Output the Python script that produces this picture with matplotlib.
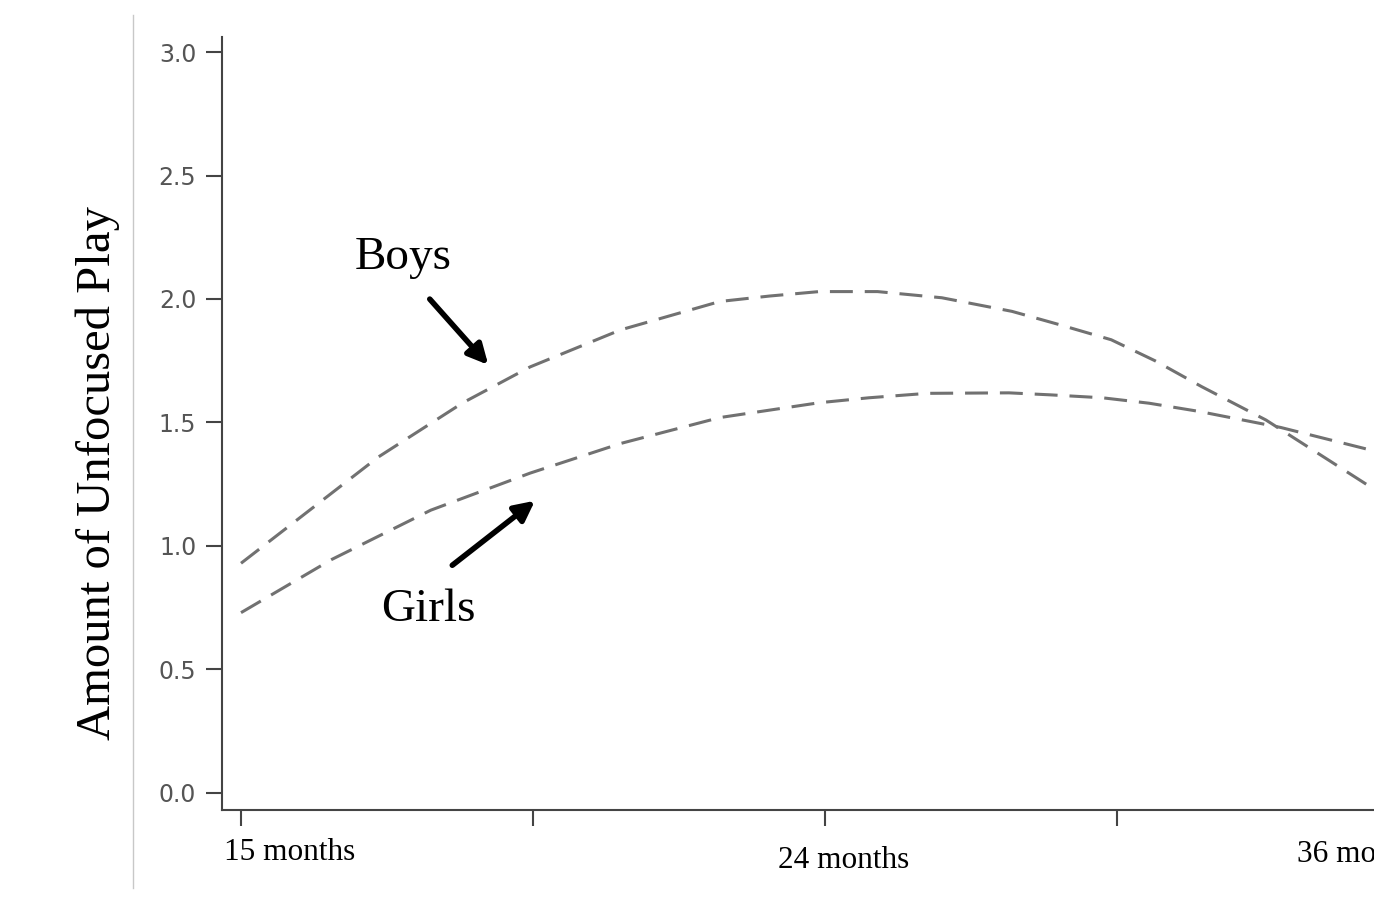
import numpy as np
import matplotlib.pyplot as plt
from matplotlib.lines import Line2D

# time axis: 0 = 15 months, 2 = 24 months, 4 = 36 months
boys_x = [0.0, 0.47, 0.76, 0.99, 1.30, 1.64, 1.81, 1.98, 2.18, 2.40, 2.64, 2.80, 2.98, 3.13, 3.29, 3.51, 3.88]
boys_y = [0.93, 1.36, 1.58, 1.725, 1.875, 1.99, 2.012, 2.03, 2.03, 2.005, 1.95, 1.897, 1.835, 1.75, 1.645, 1.51, 1.23]

girls_x = [0.0, 0.31, 0.65, 0.99, 1.30, 1.64, 1.98, 2.15, 2.35, 2.63, 2.77, 2.95, 3.11, 3.28, 3.56, 3.88]
girls_y = [0.73, 0.945, 1.145, 1.295, 1.415, 1.52, 1.58, 1.60, 1.618, 1.62, 1.612, 1.60, 1.578, 1.545, 1.48, 1.385]

x_ticks = [0, 1, 2, 3, 4]
y_ticks = [0.0, 0.5, 1.0, 1.5, 2.0, 2.5, 3.0]

fig = plt.figure(figsize=(13.74, 8.97), dpi=100)
ax = fig.add_axes([0.1616, 0.0970, 0.8384, 0.8618])

line_col = '#717171'
for xs, ys in [(boys_x, boys_y), (girls_x, girls_y)]:
    l, = ax.plot(xs, ys, color=line_col, lw=2.2, solid_joinstyle='round', dash_joinstyle='round')
    l.set_dashes((7.5, 3.9))

for s in ['top', 'right']:
    ax.spines[s].set_visible(False)
for s in ['left', 'bottom']:
    ax.spines[s].set_color('#444444')
    ax.spines[s].set_linewidth(1.5)

ax.set_yticks(y_ticks)
ax.set_yticklabels([f'{v:.1f}' for v in y_ticks])
ax.set_xticks(x_ticks)
ax.set_xticklabels([])
# limits after the ticks so the 36-month tick does not widen the view
ax.set_xlim(-0.065, 3.88)
ax.set_ylim(-0.069, 3.061)
ax.tick_params(axis='y', length=11.5, width=1.5, color='#444444', pad=7,
               labelsize=17, labelcolor='#555555')
ax.tick_params(axis='x', length=11.5, width=1.5, color='#444444')

serif = 'Liberation Serif'
ax.set_ylabel('Amount of Unfocused Play', fontsize=35, family=serif)
ax.yaxis.set_label_coords(-0.0885, 0.436)

# month labels under the axis
ax.text(0.168, -0.243, '15 months', fontsize=22.5, family=serif, ha='center', va='center', clip_on=False)
ax.text(2.062, -0.275, '24 months', fontsize=22.5, family=serif, ha='center', va='center', clip_on=False)
ax.text(3.616, -0.251, '36 months', fontsize=22.5, family=serif, ha='left', va='center', clip_on=False)

# group labels with arrows
ax.text(0.555, 2.166, 'Boys', fontsize=34, family=serif, ha='center', va='center')
ax.text(0.640, 0.741, 'Girls', fontsize=34, family=serif, ha='center', va='center')
ax.annotate('', xy=(0.853, 1.725), xytext=(0.640, 2.008),
            arrowprops=dict(arrowstyle='-|>', color='black', lw=4, mutation_scale=30))
ax.annotate('', xy=(1.014, 1.190), xytext=(0.716, 0.915),
            arrowprops=dict(arrowstyle='-|>', color='black', lw=4, mutation_scale=30))

# thin frame line on the left
fig.add_artist(Line2D([0.0968, 0.0968], [0.010, 0.983], color='#c8c8c8', lw=1))

fig.savefig('out.png', dpi=100)
